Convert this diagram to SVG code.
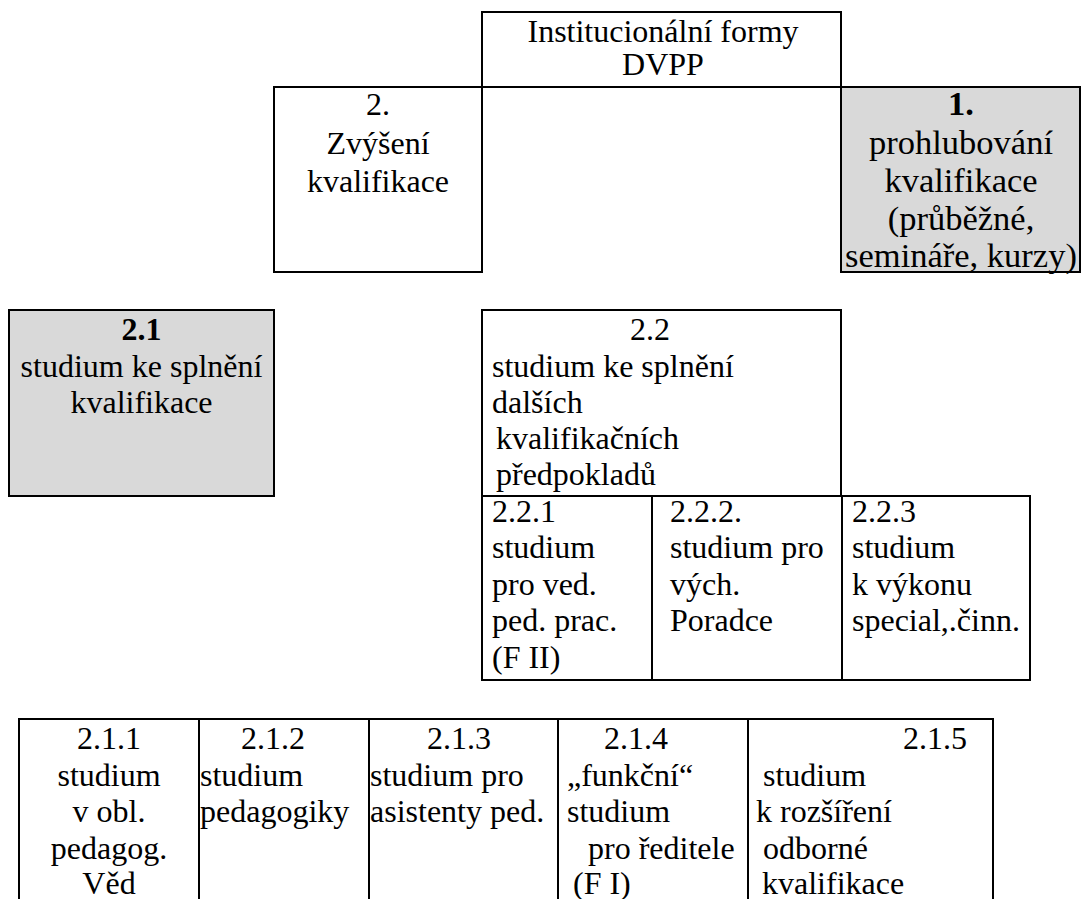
<svg xmlns="http://www.w3.org/2000/svg" width="1081" height="899" viewBox="0 0 1081 899">
<style>
  .box { fill: #ffffff; stroke: #000000; stroke-width: 2; }
  .grey { fill: #d9d9d9; stroke: #000000; stroke-width: 2; }
  .ln { stroke: #000000; stroke-width: 2; fill: none; }
  .t { font-family: 'Liberation Serif', 'Times New Roman', Times, 'DejaVu Serif', serif; font-size: 32px; fill: #000000; }
  .big { font-size: 34.5px; }
  .c { text-anchor: middle; }
  .b { font-weight: bold; }
</style>
<rect x="0" y="0" width="1081" height="899" fill="#ffffff"/>

<g id="node-dvpp" class="t">
  <rect class="box" x="482" y="12" width="359" height="75"/>
  <text class="c" x="663" y="42">Institucionální formy</text>
  <text class="c" x="663" y="75">DVPP</text>
</g>

<g id="node-2" class="t">
  <rect class="box" x="274" y="87" width="208" height="185"/>
  <text class="c" x="378" y="115">2.</text>
  <text class="c" x="378" y="154">Zvýšení</text>
  <text class="c" x="378" y="192">kvalifikace</text>
</g>

<g id="node-1" class="t big">
  <rect class="grey" x="841" y="87" width="239" height="185"/>
  <text class="c b" x="961" y="115">1.</text>
  <text class="c" x="961" y="154">prohlubování</text>
  <text class="c" x="961" y="192">kvalifikace</text>
  <text class="c" x="961" y="230">(průběžné,</text>
  <text class="c" x="961" y="267">semináře, kurzy)</text>
</g>

<g id="connectors">
  <line class="ln" x1="482" y1="87" x2="841" y2="87"/>
</g>

<g id="node-2-1" class="t">
  <rect class="grey" x="9" y="310" width="265" height="186"/>
  <text class="c b" x="141.5" y="340">2.1</text>
  <text class="c" x="141.5" y="377">studium ke splnění</text>
  <text class="c" x="141.5" y="413">kvalifikace</text>
</g>

<g id="node-2-2" class="t">
  <rect class="box" x="482" y="310" width="359" height="186"/>
  <text x="630" y="340">2.2</text>
  <text x="492" y="377">studium ke splnění</text>
  <text x="492" y="413">dalších</text>
  <text x="496" y="449">kvalifikačních</text>
  <text x="496" y="485">předpokladů</text>
</g>

<g id="node-2-2-1" class="t">
  <rect class="box" x="482" y="496" width="170" height="184"/>
  <text x="492" y="522">2.2.1</text>
  <text x="492" y="558">studium</text>
  <text x="492" y="595">pro ved.</text>
  <text x="492" y="631">ped. prac.</text>
  <text x="492" y="668">(F II)</text>
</g>

<g id="node-2-2-2" class="t">
  <rect class="box" x="652" y="496" width="190" height="184"/>
  <text x="670" y="522">2.2.2.</text>
  <text x="670" y="558">studium pro</text>
  <text x="670" y="595">vých.</text>
  <text x="670" y="631">Poradce</text>
</g>

<g id="node-2-2-3" class="t">
  <rect class="box" x="842" y="496" width="188" height="184"/>
  <text x="852" y="522">2.2.3</text>
  <text x="852" y="558">studium</text>
  <text x="852" y="595">k výkonu</text>
  <text x="852" y="631">special,.činn.</text>
</g>

<g id="node-2-1-1" class="t">
  <path class="ln" d="M19,910 V719 H199 V910"/>
  <text class="c" x="109" y="749">2.1.1</text>
  <text class="c" x="109" y="786">studium</text>
  <text class="c" x="109" y="822">v obl.</text>
  <text class="c" x="109" y="859">pedagog.</text>
  <text class="c" x="109" y="894">Věd</text>
</g>

<g id="node-2-1-2" class="t">
  <path class="ln" d="M199,719 H369 V910"/>
  <text x="241" y="749">2.1.2</text>
  <text x="200" y="786">studium</text>
  <text x="200" y="822">pedagogiky</text>
</g>

<g id="node-2-1-3" class="t">
  <path class="ln" d="M369,719 H558 V910"/>
  <text x="427" y="749">2.1.3</text>
  <text x="370" y="786">studium pro</text>
  <text x="370" y="822">asistenty ped.</text>
</g>

<g id="node-2-1-4" class="t">
  <path class="ln" d="M558,719 H748 V910"/>
  <text x="604" y="749">2.1.4</text>
  <text x="567" y="786">„funkční“</text>
  <text x="567" y="822">studium</text>
  <text x="588" y="859">pro ředitele</text>
  <text x="573" y="894">(F I)</text>
</g>

<g id="node-2-1-5" class="t">
  <path class="ln" d="M748,719 H993 V910"/>
  <text x="903" y="749">2.1.5</text>
  <text x="763" y="786">studium</text>
  <text x="756" y="822">k rozšíření</text>
  <text x="763" y="859">odborné</text>
  <text x="762" y="894">kvalifikace</text>
</g>
</svg>
